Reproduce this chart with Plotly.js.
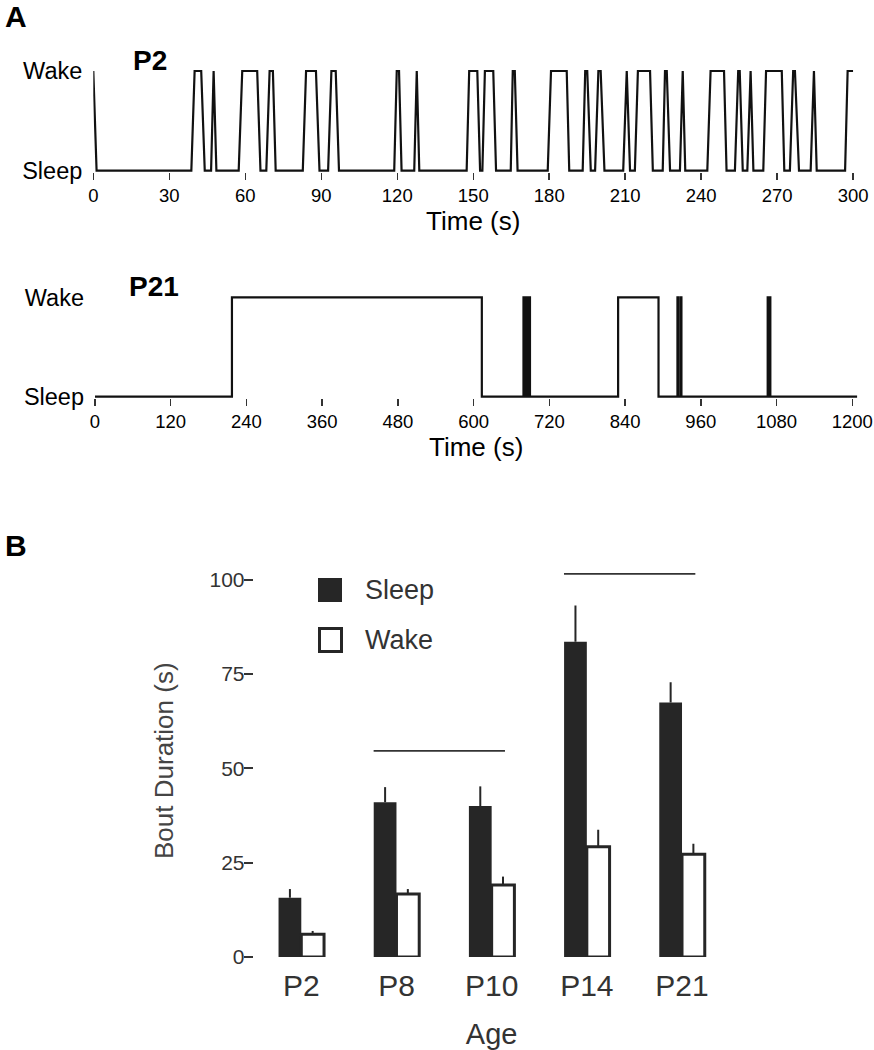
<!DOCTYPE html>
<html>
<head>
<meta charset="utf-8">
<script src="https://cdn.plot.ly/plotly-3.0.1.min.js"></script>
<style>html,body{margin:0;padding:0;background:#fff;}#chart{width:874px;height:1050px;}</style>
</head>
<body>
<div id="chart"></div>
<script>
// ---------- Panel A data: sleep/wake hypnograms (state: 0 = Sleep, 1 = Wake) ----------
const p2Time = [0, 1.3, 38.7, 40.0, 42.6, 44.0, 46.5, 47.5, 48.6, 57.4, 58.8, 64.7, 66.0, 68.3, 69.6, 70.9, 72.0,
  82.7, 84.0, 87.9, 89.3, 92.7, 94.0, 95.7, 97.0, 118.8, 119.8, 120.7, 121.7, 126.7, 127.7, 128.7,
  147.4, 148.4, 151.6, 152.7, 153.6, 154.6, 157.9, 159.0, 164.8, 165.6, 166.4, 167.5, 179.4, 180.7, 186.9, 187.9,
  193.2, 194.2, 195.0, 196.4, 198.1, 199.4, 200.3, 201.8, 209.2, 210.6, 211.9, 213.8, 215.0, 219.8, 220.9,
  224.8, 225.7, 226.4, 227.7, 231.6, 232.7, 233.7, 242.4, 243.7, 249.0, 250.0, 253.3, 254.6, 255.2, 256.4,
  258.2, 259.5, 260.6, 264.5, 265.6, 271.8, 272.8, 275.0, 276.3, 277.0, 278.6, 283.2, 284.5, 285.6, 296.8, 297.8, 300];
const p2State = [1, 0, 0, 1, 1, 0, 0, 1, 0, 0, 1, 1, 0, 0, 1, 1, 0,
  0, 1, 1, 0, 0, 1, 1, 0, 0, 1, 1, 0, 0, 1, 0,
  0, 1, 1, 0, 0, 1, 1, 0, 0, 1, 1, 0, 0, 1, 1, 0,
  0, 1, 1, 0, 0, 1, 1, 0, 0, 1, 0, 0, 1, 1, 0,
  0, 1, 1, 0, 0, 1, 0, 0, 1, 1, 0, 0, 1, 1, 0,
  0, 1, 0, 0, 1, 1, 0, 0, 1, 1, 0, 0, 1, 0, 0, 1, 1];

const p21Time = [0, 217, 613, 679, 680.3, 682, 683.3, 685, 686.3, 688, 689.3, 829, 893,
  923, 924.3, 928, 929.3, 1066, 1067.3, 1069, 1070.2, 1208];
const p21State = [0, 1, 0, 1, 0, 1, 0, 1, 0, 1, 0, 1, 0,
  1, 0, 1, 0, 1, 0, 1, 0, 0];

const stateLabels = ['Sleep', 'Wake'];
const p2Ticks = [0, 30, 60, 90, 120, 150, 180, 210, 240, 270, 300];
const p21Ticks = [0, 120, 240, 360, 480, 600, 720, 840, 960, 1080, 1200];

// ---------- Panel B data: bout durations ----------
const ages = ['P2', 'P8', 'P10', 'P14', 'P21'];
const seriesNames = ['Sleep', 'Wake'];
const sleepMean = [15.7, 41.0, 40.0, 83.5, 67.4];
const sleepErr = [2.3, 4.0, 5.2, 9.6, 5.4];
const wakeMean = [6.0, 16.7, 19.1, 29.2, 27.2];
const wakeErr = [0.9, 1.3, 2.2, 4.5, 2.8];
const yTicksB = [0, 25, 50, 75, 100];
// significance bars: [from age, to age, level]
const sigFrom = ['P8', 'P14'];
const sigTo = ['P10', 'P21'];
const sigLevel = [54.6, 101.5];

const W = 874, H = 1050;
const px = v => v / W;
const py = v => 1 - v / H;
const FONT = 'Liberation Sans, Arial, Helvetica, sans-serif';
const DARK = '#262626';

const traces = [
  {x: p2Time, y: p2State, type: 'scatter', mode: 'lines', xaxis: 'x', yaxis: 'y',
   line: {color: '#111', width: 2.2}, showlegend: false, hoverinfo: 'skip'},
  {x: p21Time, y: p21State, type: 'scatter', mode: 'lines', xaxis: 'x2', yaxis: 'y2',
   line: {color: '#111', width: 2.2, shape: 'hv'}, showlegend: false, hoverinfo: 'skip'},
  {x: ages, y: sleepMean, name: seriesNames[0], type: 'bar', xaxis: 'x3', yaxis: 'y3',
   marker: {color: DARK, line: {width: 0}},
   error_y: {type: 'data', symmetric: false, array: sleepErr, arrayminus: sleepErr.map(() => 0),
             width: 0, thickness: 2, color: DARK},
   showlegend: false, hoverinfo: 'skip'},
  {x: ages, y: wakeMean, name: seriesNames[1], type: 'bar', xaxis: 'x3', yaxis: 'y3',
   marker: {color: '#ffffff', line: {color: DARK, width: 3}},
   error_y: {type: 'data', symmetric: false, array: wakeErr, arrayminus: wakeErr.map(() => 0),
             width: 0, thickness: 2, color: DARK},
   showlegend: false, hoverinfo: 'skip'}
];

const stateAxis = (domain) => ({
  domain: domain, range: [-0.015, 1.015], tickvals: [0, 1], ticktext: stateLabels,
  ticks: '', showline: false, showgrid: false, zeroline: false, fixedrange: true,
  ticklabelstandoff: 10, tickfont: {family: FONT, size: 23.5, color: '#000'}
});
const timeAxis = (domain, range, ticks, anchor) => ({
  domain: domain, range: range, tickvals: ticks, ticktext: ticks.map(String), anchor: anchor,
  ticks: 'outside', ticklen: 7, tickwidth: 1.5, tickcolor: '#333',
  showline: false, showgrid: false, zeroline: false, fixedrange: true,
  tickfont: {family: FONT, size: 18.5, color: '#000'},
  title: {text: 'Time (s)', font: {family: FONT, size: 26, color: '#000'}, standoff: 4}
});

const shapes = [];
for (let i = 0; i < sigFrom.length; i++) {
  shapes.push({type: 'line', xref: 'x3', yref: 'y3',
    x0: ages.indexOf(sigFrom[i]) - 0.24, x1: ages.indexOf(sigTo[i]) + 0.14,
    y0: sigLevel[i], y1: sigLevel[i], line: {color: '#333', width: 1.8}});
}
// legend swatches
shapes.push({type: 'rect', xref: 'paper', yref: 'paper', x0: px(318), x1: px(342), y0: py(602), y1: py(578),
  fillcolor: DARK, line: {width: 0}});
shapes.push({type: 'rect', xref: 'paper', yref: 'paper', x0: px(319.5), x1: px(341.5), y0: py(651.5), y1: py(628.5),
  fillcolor: '#fff', line: {color: DARK, width: 3}});

const annotations = [
  {text: '<b>A</b>', x: px(3), y: py(16), xref: 'paper', yref: 'paper', xanchor: 'left', yanchor: 'middle',
   showarrow: false, font: {family: FONT, size: 30, color: '#000'}},
  {text: '<b>B</b>', x: px(3), y: py(545), xref: 'paper', yref: 'paper', xanchor: 'left', yanchor: 'middle',
   showarrow: false, font: {family: FONT, size: 30, color: '#000'}},
  {text: '<b>P2</b>', x: px(150), y: py(61), xref: 'paper', yref: 'paper', xanchor: 'center', yanchor: 'middle',
   showarrow: false, font: {family: FONT, size: 28, color: '#000'}},
  {text: '<b>P21</b>', x: px(154), y: py(286), xref: 'paper', yref: 'paper', xanchor: 'center', yanchor: 'middle',
   showarrow: false, font: {family: FONT, size: 28, color: '#000'}},
  {text: seriesNames[0], x: px(363), y: py(590), xref: 'paper', yref: 'paper', xanchor: 'left', yanchor: 'middle',
   showarrow: false, font: {family: FONT, size: 27, color: '#333'}},
  {text: seriesNames[1], x: px(363), y: py(640), xref: 'paper', yref: 'paper', xanchor: 'left', yanchor: 'middle',
   showarrow: false, font: {family: FONT, size: 27, color: '#333'}}
];

const layout = {
  width: W, height: H, margin: {l: 0, r: 0, t: 0, b: 0},
  paper_bgcolor: '#fff', plot_bgcolor: 'rgba(0,0,0,0)',
  showlegend: false,
  barmode: 'group', bargap: 0.522, bargroupgap: 0,
  xaxis: timeAxis([px(93.3), px(853.2)], [0, 300], p2Ticks, 'y'),
  yaxis: stateAxis([py(172.2), py(69.5)]),
  xaxis2: timeAxis([px(95), px(857.3)], [0, 1208], p21Ticks, 'y2'),
  yaxis2: Object.assign(stateAxis([py(398.2), py(295.8)]), {anchor: 'x2'}),
  xaxis3: {domain: [px(253.7), px(729.6)], range: [-0.5, 4.5], anchor: 'y3', type: 'category',
    ticks: '', showline: false, showgrid: false, zeroline: false, fixedrange: true,
    ticklabelstandoff: 8,
    tickfont: {family: FONT, size: 30, color: '#333'},
    title: {text: 'Age', font: {family: FONT, size: 29, color: '#333'}, standoff: 22}},
  yaxis3: {domain: [py(957), py(564.4)], range: [0, 104], anchor: 'x3', tickvals: yTicksB,
    ticks: 'outside', ticklen: 9, tickwidth: 2, tickcolor: '#333', ticklabelstandoff: -5,
    showline: false, showgrid: false, zeroline: false, fixedrange: true,
    tickfont: {family: FONT, size: 21, color: '#333'},
    title: {text: 'Bout Duration (s)', font: {family: FONT, size: 26, color: '#444'}, standoff: 28}},
  shapes: shapes,
  annotations: annotations
};

Plotly.newPlot('chart', traces, layout, {displayModeBar: false, staticPlot: true});
</script>
</body>
</html>
